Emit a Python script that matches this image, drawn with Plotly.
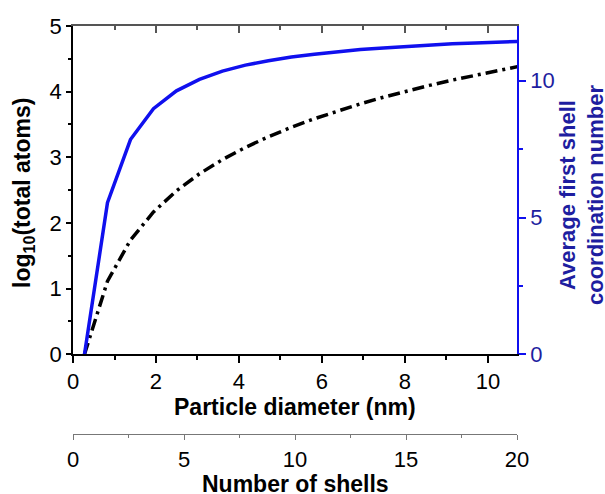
import plotly.graph_objects as go

# Particle diameter (nm) for clusters of 0..20 shells
diameter_nm = [0.277, 0.831, 1.385, 1.939, 2.493, 3.047, 3.601, 4.155, 4.709, 5.263,
               5.817, 6.371, 6.925, 7.479, 8.033, 8.587, 9.141, 9.695, 10.249, 10.803, 11.357]
# log10(total atoms)  (black dash-dot, left axis)
log_total_atoms = [0.0, 1.114, 1.740, 2.167, 2.490, 2.749, 2.965, 3.151, 3.313, 3.458,
                   3.588, 3.706, 3.815, 3.915, 4.008, 4.095, 4.176, 4.253, 4.325, 4.393, 4.459]
# Average first shell coordination number (blue, right axis)
avg_cn = [0.0, 5.54, 7.85, 8.98, 9.63, 10.05, 10.35, 10.57, 10.73, 10.87,
          10.97, 11.06, 11.14, 11.20, 11.26, 11.30, 11.35, 11.38, 11.42, 11.45, 11.47]

x_ticks = [0, 2, 4, 6, 8, 10]
shell_ticks = [0, 5, 10, 15, 20]
left_ticks = [0, 1, 2, 3, 4, 5]
right_ticks = [0, 5, 10]

FONT = "Arial, Liberation Sans, sans-serif"
BLUE = "#1010ee"
NAVY = "#1e1ea0"

W, H = 605, 494
ML, MR, MT, MB = 73, 88, 26, 60
PW, PH = W - ML - MR, H - MT - MB
ybottom = (434 - 354.3) / PH


def px_x(px):
    return (px - ML) / PW


def px_y(py):
    return (H - MB - py) / PH


fig = go.Figure()
fig.add_trace(go.Scatter(x=diameter_nm, y=log_total_atoms, mode="lines",
                         line=dict(color="black", width=3.5, dash="12px,5px,3px,5px"),
                         xaxis="x", yaxis="y", showlegend=False, hoverinfo="skip"))
fig.add_trace(go.Scatter(x=diameter_nm, y=avg_cn, mode="lines",
                         line=dict(color=BLUE, width=3.5),
                         xaxis="x", yaxis="y2", showlegend=False, hoverinfo="skip"))
# carriers for the extra axes (no visible marks)
fig.add_trace(go.Scatter(x=[0, 20], y=[None, None], xaxis="x2", yaxis="y",
                         showlegend=False, hoverinfo="skip"))
fig.add_trace(go.Scatter(x=[0, 10.7], y=[None, None], xaxis="x3", yaxis="y",
                         showlegend=False, hoverinfo="skip"))

tickfont = dict(family=FONT, size=22, color="black")

fig.update_layout(
    width=W, height=H,
    margin=dict(l=ML, r=MR, t=MT, b=MB),
    paper_bgcolor="white", plot_bgcolor="white",
    font=dict(family=FONT),
    xaxis=dict(domain=[0, 1], range=[0, 10.7], anchor="y",
               tickvals=x_ticks, ticks="outside", ticklen=7, tickwidth=1.5, tickcolor="black",
               minor=dict(dtick=1, ticks="outside", ticklen=4, tickwidth=1.5, tickcolor="black"),
               showline=True, linecolor="black", linewidth=1.5,
               showgrid=False, zeroline=False, tickfont=tickfont),
    xaxis3=dict(overlaying="x", side="top", anchor="y", range=[0, 10.7],
                tickvals=x_ticks, ticks="inside", ticklen=7, tickwidth=1.5, tickcolor="#555",
                minor=dict(dtick=1, ticks="inside", ticklen=4, tickwidth=1.5, tickcolor="#555"),
                showticklabels=False, showline=True, linecolor="#555", linewidth=1.5,
                showgrid=False, zeroline=False),
    xaxis2=dict(overlaying="x", anchor="free", position=0, side="bottom", range=[0, 20],
                tickvals=shell_ticks, ticks="outside", ticklen=5, tickwidth=1.2, tickcolor="#777",
                minor=dict(dtick=2.5, ticks="outside", ticklen=3, tickwidth=1.2, tickcolor="#777"),
                showline=True, linecolor="#777", linewidth=1.2,
                showgrid=False, zeroline=False, tickfont=tickfont),
    yaxis=dict(domain=[ybottom, 1], range=[0, 5], anchor="x",
               tickvals=left_ticks, ticks="outside", ticklen=5, tickwidth=1.5, tickcolor="black",
               minor=dict(dtick=0.5, ticks="outside", ticklen=3, tickwidth=1.5, tickcolor="black"),
               showline=True, linecolor="black", linewidth=1.5,
               showgrid=False, zeroline=False, tickfont=tickfont),
    yaxis2=dict(overlaying="y", side="right", anchor="x", range=[0, 12],
                tickvals=right_ticks, ticks="outside", ticklen=7, tickwidth=1.5, tickcolor=BLUE,
                minor=dict(dtick=2.5, ticks="outside", ticklen=4, tickwidth=1.5, tickcolor=BLUE),
                showline=True, linecolor=BLUE, linewidth=1.5,
                showgrid=False, zeroline=False,
                tickfont=dict(family=FONT, size=22, color=NAVY)),
)

title_font = dict(family=FONT, size=23, color="black")
navy_font = dict(family=FONT, size=22, color=NAVY)
ann = [
    dict(text="<b>log<sub>10</sub>(total atoms)</b>", x=px_x(23), y=px_y(193), textangle=-90,
         font=title_font),
    dict(text="<b>Average first shell</b>", x=px_x(567), y=px_y(195),
         textangle=-90, font=navy_font),
    dict(text="<b>coordination number</b>", x=px_x(595), y=px_y(195),
         textangle=-90, font=navy_font),
    dict(text="<b>Particle diameter (nm)</b>", x=px_x(295), y=px_y(407), font=title_font),
    dict(text="<b>Number of shells</b>", x=px_x(295), y=px_y(484), font=title_font),
]
for a in ann:
    fig.add_annotation(xref="paper", yref="paper", showarrow=False,
                       xanchor="center", yanchor="middle", **a)

# remove the default 8px page margin so the 605x494 figure fills the window exactly
fig.write_html("out.html", config={"displayModeBar": False},
               post_script="document.body.style.margin='0px';document.body.style.overflow='hidden';")
